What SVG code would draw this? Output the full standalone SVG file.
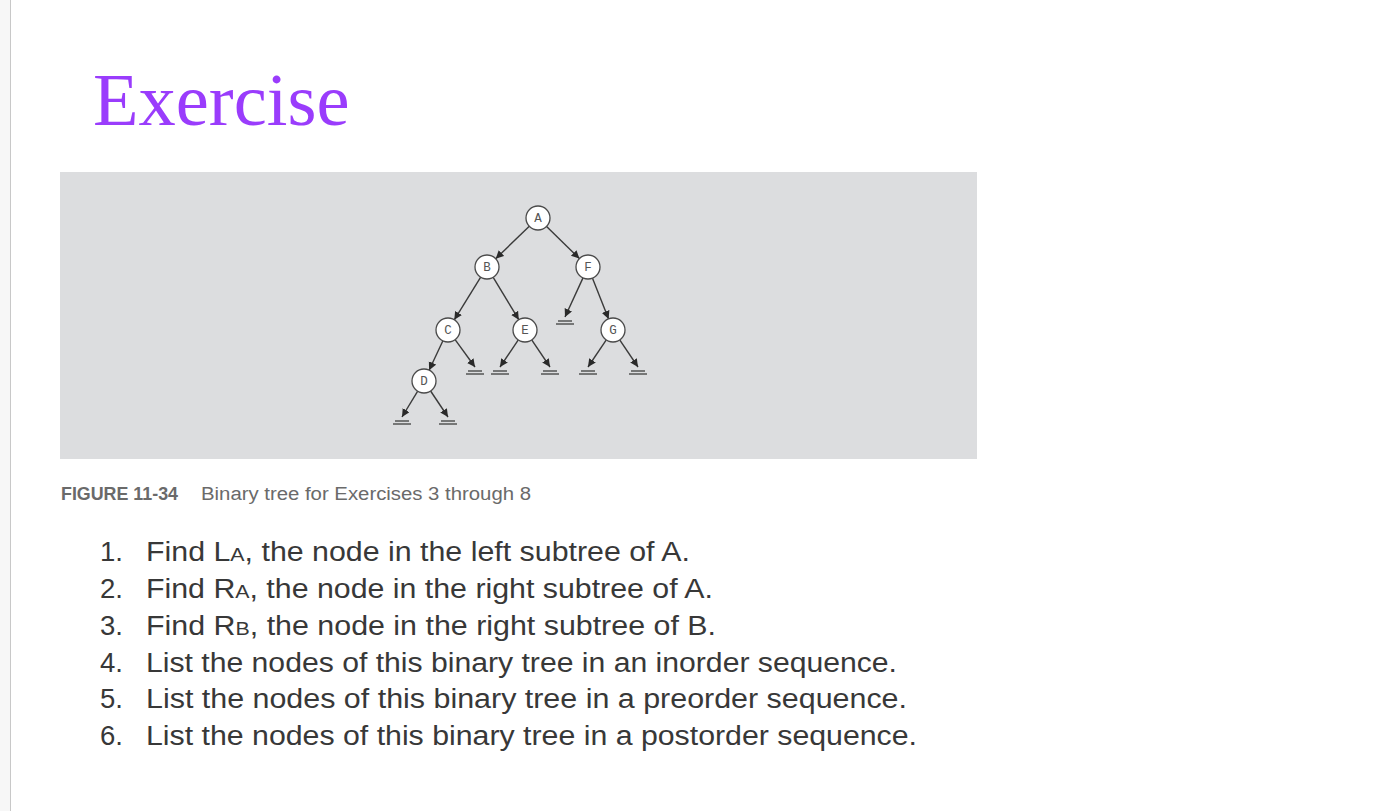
<svg xmlns="http://www.w3.org/2000/svg" width="1382" height="811" viewBox="0 0 1382 811">
<style>
.node circle{fill:#ffffff;stroke:#4a4a4a;stroke-width:1.3}
.node text{font-family:"Liberation Mono",monospace;font-size:12.5px;fill:#555;text-anchor:middle}
.edge{stroke:#3a3a3a;stroke-width:1.4;fill:none;marker-end:url(#arr)}
.gnd{stroke:#555;stroke-width:1.5}
.item{font-family:"Liberation Sans",Arial,sans-serif;font-size:27px;fill:#383838}
.sub{font-size:19px}
</style>
<defs>
<marker id="arr" markerUnits="userSpaceOnUse" markerWidth="10" markerHeight="10" refX="8" refY="4" orient="auto">
<path d="M0,0 L8,4 L0,8 z" fill="#2a2a2a"/>
</marker>
<g id="ground"><line class="gnd" x1="-7" y1="4" x2="7" y2="4"/><line class="gnd" x1="-9" y1="7" x2="9" y2="7"/></g>
</defs>
<rect x="0" y="0" width="1382" height="811" fill="#ffffff"/>
<rect x="0" y="0" width="10" height="811" fill="#f7f7f7"/>
<line x1="10.5" y1="0" x2="10.5" y2="811" stroke="#c8c8c8" stroke-width="1"/>
<text x="93" y="125" font-family="Liberation Serif,serif" font-size="74.5" fill="#9a3cfc">Exercise</text>
<rect x="60" y="172" width="917" height="287" fill="#dcdddf"/>
<g id="connectors">
<line class="edge" x1="529.3" y1="226.3" x2="495.7" y2="258.7"/>
<line class="edge" x1="546.6" y1="226.4" x2="579.4" y2="258.6"/>
<line class="edge" x1="480.7" y1="277.2" x2="454.3" y2="319.8"/>
<line class="edge" x1="493.2" y1="277.3" x2="518.8" y2="319.7"/>
<line class="edge" x1="583" y1="277.9" x2="565" y2="317"/>
<line class="edge" x1="592.4" y1="278.1" x2="608.6" y2="318.9"/>
<line class="edge" x1="442.9" y1="340.8" x2="429.1" y2="370.2"/>
<line class="edge" x1="455.1" y1="339.7" x2="475" y2="367"/>
<line class="edge" x1="518.3" y1="339.9" x2="500" y2="367"/>
<line class="edge" x1="531.7" y1="339.9" x2="550" y2="367"/>
<line class="edge" x1="606.3" y1="339.9" x2="588" y2="367"/>
<line class="edge" x1="619.7" y1="339.9" x2="638" y2="367"/>
<line class="edge" x1="417.7" y1="391.2" x2="402" y2="417"/>
<line class="edge" x1="430.6" y1="391" x2="448" y2="417"/>
<use href="#ground" x="565" y="317"/>
<use href="#ground" x="475" y="367"/>
<use href="#ground" x="500" y="367"/>
<use href="#ground" x="550" y="367"/>
<use href="#ground" x="588" y="367"/>
<use href="#ground" x="638" y="367"/>
<use href="#ground" x="402" y="417"/>
<use href="#ground" x="448" y="417"/>
</g>
<g id="nodeA" class="node"><circle cx="538" cy="218" r="12"/><text x="538" y="222">A</text></g>
<g id="nodeB" class="node"><circle cx="487" cy="267" r="12"/><text x="487" y="271">B</text></g>
<g id="nodeF" class="node"><circle cx="588" cy="267" r="12"/><text x="588" y="271">F</text></g>
<g id="nodeC" class="node"><circle cx="448" cy="330" r="12"/><text x="448" y="334">C</text></g>
<g id="nodeE" class="node"><circle cx="525" cy="330" r="12"/><text x="525" y="334">E</text></g>
<g id="nodeG" class="node"><circle cx="613" cy="330" r="12"/><text x="613" y="334">G</text></g>
<g id="nodeD" class="node"><circle cx="424" cy="381" r="12"/><text x="424" y="385">D</text></g>
<text x="61" y="500" font-family="Liberation Sans Narrow,Liberation Sans,sans-serif" font-weight="bold" font-size="18" fill="#6a6a6a" textLength="117" lengthAdjust="spacingAndGlyphs">FIGURE 11-34</text>
<text x="201" y="500" font-family="Liberation Sans,sans-serif" font-size="18" fill="#6a6a6a" textLength="330" lengthAdjust="spacingAndGlyphs">Binary tree for Exercises 3 through 8</text>
<g class="item">
<text x="100" y="561" textLength="23" lengthAdjust="spacingAndGlyphs">1.</text><text x="146" y="561" textLength="544" lengthAdjust="spacingAndGlyphs">Find L<tspan class="sub">A</tspan>, the node in the left subtree of A.</text>
<text x="100" y="598" textLength="23" lengthAdjust="spacingAndGlyphs">2.</text><text x="146" y="598" textLength="567" lengthAdjust="spacingAndGlyphs">Find R<tspan class="sub">A</tspan>, the node in the right subtree of A.</text>
<text x="100" y="634.5" textLength="23" lengthAdjust="spacingAndGlyphs">3.</text><text x="146" y="634.5" textLength="570" lengthAdjust="spacingAndGlyphs">Find R<tspan class="sub">B</tspan>, the node in the right subtree of B.</text>
<text x="100" y="671.5" textLength="23" lengthAdjust="spacingAndGlyphs">4.</text><text x="146" y="671.5" textLength="751" lengthAdjust="spacingAndGlyphs">List the nodes of this binary tree in an inorder sequence.</text>
<text x="100" y="708" textLength="23" lengthAdjust="spacingAndGlyphs">5.</text><text x="146" y="708" textLength="761" lengthAdjust="spacingAndGlyphs">List the nodes of this binary tree in a preorder sequence.</text>
<text x="100" y="744.5" textLength="23" lengthAdjust="spacingAndGlyphs">6.</text><text x="146" y="744.5" textLength="771" lengthAdjust="spacingAndGlyphs">List the nodes of this binary tree in a postorder sequence.</text>
</g>
</svg>
